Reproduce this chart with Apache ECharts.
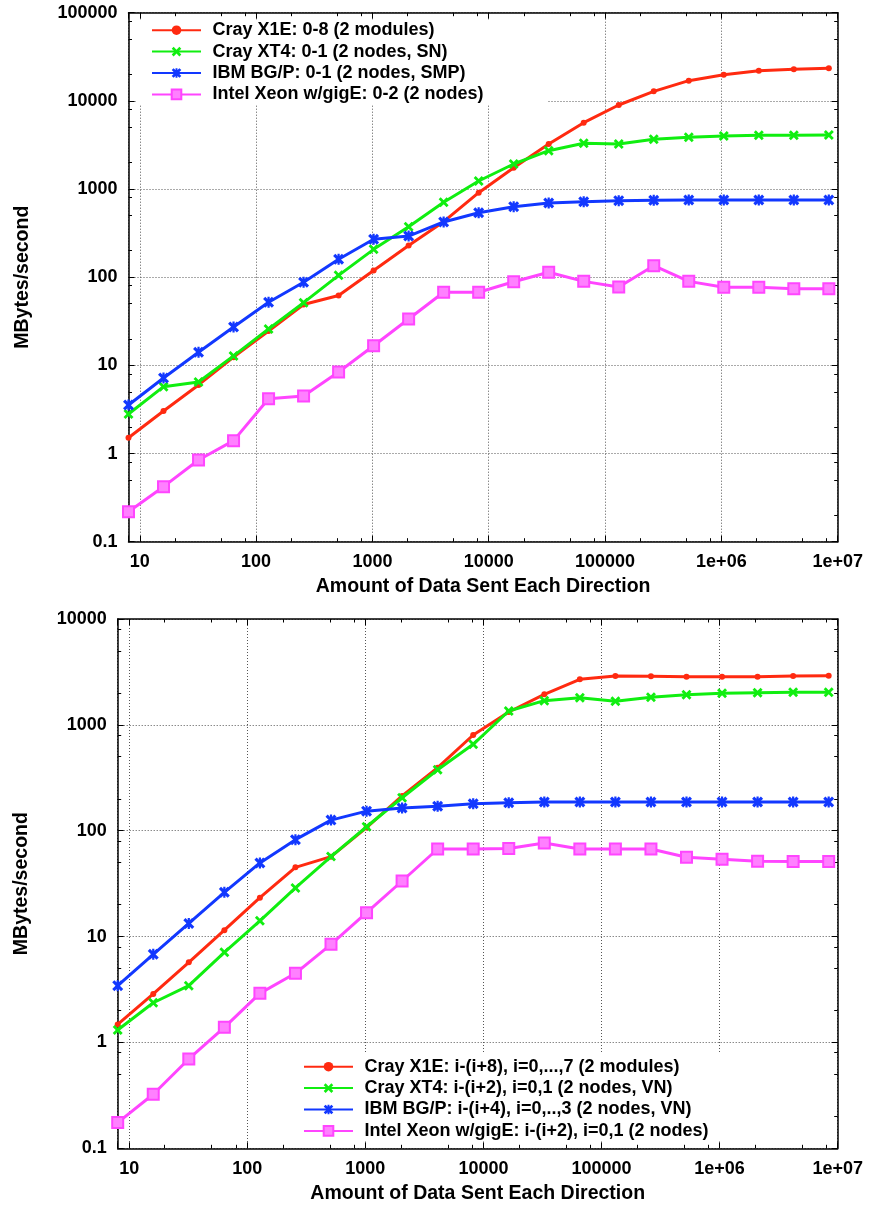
<!DOCTYPE html>
<html><head><meta charset="utf-8">
<script src="https://cdn.jsdelivr.net/npm/echarts@6/dist/echarts.min.js"></script>
<style>html,body{margin:0;padding:0;background:#fff}#c{width:870px;height:1207px}</style>
</head><body><div id="c"></div>
<script>
// ---------- data ----------
const xValues = [8,16,32,64,128,256,512,1024,2048,4096,8192,16384,32768,65536,131072,262144,524288,1048576,2097152,4194304,8388608];

const topNames = ['Cray X1E: 0-8 (2 modules)','Cray XT4: 0-1 (2 nodes, SN)','IBM BG/P: 0-1 (2 nodes, SMP)','Intel Xeon w/gigE: 0-2 (2 nodes)'];
const topX1E  = [1.51,3.04,6.0,12.4,24.5,49,62,119,229,426,909,1746,3243,5655,8980,12830,16940,19800,21980,22800,23400];
const topXT4  = [2.81,5.73,6.48,12.8,25.9,51.4,105,207,374,707,1233,1923,2723,3301,3243,3665,3862,3996,4067,4067,4100];
const topBGP  = [3.55,7.19,14.1,27.2,51.9,87.5,160,269,293,423,539,631,695,718,738,745,750,752,752,752,752];
const topXeon = [0.219,0.421,0.845,1.40,4.19,4.49,8.41,16.7,33.6,67.4,67.4,88.9,113.7,89.7,77.4,135,89.7,77,77,74,74];

const botNames = ['Cray X1E: i-(i+8), i=0,...,7 (2 modules)','Cray XT4: i-(i+2), i=0,1 (2 nodes, VN)','IBM BG/P: i-(i+4), i=0,..,3 (2 nodes, VN)','Intel Xeon w/gigE: i-(i+2), i=0,1 (2 nodes)'];
const botX1E  = [1.48,2.87,5.71,11.5,23.3,45.1,56.9,107,213,394,802,1322,1943,2693,2894,2880,2852,2840,2850,2894,2918];
const botXT4  = [1.31,2.37,3.44,7.10,14.1,28.8,57,109,205,377,655,1352,1692,1806,1668,1820,1928,1986,2010,2033,2033];
const botBGP  = [3.44,6.80,13.3,26.2,49.6,82.3,126,153,164,170,180,184,187,187,187,187,187,187,187,187,187];
const botXeon = [0.175,0.324,0.698,1.39,2.91,4.50,8.45,16.8,33.5,67.2,67.2,67.8,76.6,67.2,67.2,67.2,56.1,53.7,51.4,51.2,51.2];

const xTickValues = [10,100,1000,10000,100000,1000000,10000000];
const xTickLabels = ['10','100','1000','10000','100000','1e+06','1e+07'];
const yTopTickValues = [0.1,1,10,100,1000,10000,100000];
const yTopTickLabels = ['0.1','1','10','100','1000','10000','100000'];
const yBotTickValues = [0.1,1,10,100,1000,10000];
const yBotTickLabels = ['0.1','1','10','100','1000','10000'];
const minorMultipliers = [2,5,8];

const xTitle = 'Amount of Data Sent Each Direction';
const yTitle = 'MBytes/second';

// ---------- styling ----------
const FONT = "'Liberation Sans', Arial, Helvetica, sans-serif";
const colors = ['#ff2a10','#10ee10','#1238ff','#ff45ff'];
const symX = 'path://M0,2L2,0L5,3L8,0L10,2L7,5L10,8L8,10L5,7L2,10L0,8L3,5Z';
const symStar = 'path://M0,2L2,0L5,3L8,0L10,2L7,5L10,8L8,10L5,7L2,10L0,8L3,5Z M4,0L6,0L6,10L4,10Z';
const symbols = ['circle', symX, symStar, 'rect'];
const symSizes = [6, 10, 11, 11];

function lookup(vals, labels) {
  return function (v) {
    for (let i = 0; i < vals.length; i++) {
      if (Math.abs(v - vals[i]) <= 1e-6 * vals[i]) return labels[i];
    }
    return '';
  };
}
function minorLogs(kFrom, kTo) {
  const out = [];
  for (let k = kFrom; k <= kTo; k++) minorMultipliers.forEach(m => out.push(Math.log10(m) + k));
  return out;
}

const tickLabelStyle = { color: '#000', fontSize: 18, fontWeight: 'bold', fontFamily: FONT };
const titleStyle = { color: '#000', fontSize: 19.5, fontWeight: 'bold', fontFamily: FONT };
const gridLine = { show: true, lineStyle: { color: '#555', type: [1, 2], width: 1 } };
const axisLineStyle = { onZero: false, lineStyle: { color: '#000', width: 1.5 } };
const noLine = { show: false, onZero: false };
const majorTick = { show: true, inside: true, length: 6, lineStyle: { color: '#000', width: 1 } };
const minorTickDef = (vals) => ({ show: true, inside: true, length: 3.5, customValues: vals, lineStyle: { color: '#000', width: 1 } });

function xAxesFor(g, nameGap) {
  const xmin = 8, xmax = 1e7;
  const minorVals = minorLogs(0, 6).filter(v => v > Math.log10(xmin) + 1e-9 && v < 7);
  return [
    { gridIndex: g, type: 'log', logBase: 10, min: xmin, max: xmax, position: 'bottom',
      axisLine: axisLineStyle, axisTick: majorTick, splitLine: gridLine,
      axisLabel: Object.assign({ margin: 11.5, formatter: lookup(xTickValues, xTickLabels) }, tickLabelStyle),
      name: xTitle, nameLocation: 'middle', nameGap: nameGap, nameTextStyle: titleStyle },
    { gridIndex: g, type: 'log', logBase: 10, min: xmin, max: xmax, position: 'top',
      axisLine: axisLineStyle, axisTick: majorTick, splitLine: { show: false }, axisLabel: { show: false } },
    { gridIndex: g, type: 'value', min: Math.log10(xmin), max: 7, position: 'bottom',
      axisLine: noLine, axisTick: minorTickDef(minorVals), splitLine: { show: false }, axisLabel: { show: false } },
    { gridIndex: g, type: 'value', min: Math.log10(xmin), max: 7, position: 'top',
      axisLine: noLine, axisTick: minorTickDef(minorVals), splitLine: { show: false }, axisLabel: { show: false } }
  ];
}
function yAxesFor(g, ymin, ymax, vals, labels, nameGap) {
  const lo = Math.round(Math.log10(ymin)), hi = Math.round(Math.log10(ymax));
  const minorVals = minorLogs(lo, hi - 1);
  return [
    { gridIndex: g, type: 'log', logBase: 10, min: ymin, max: ymax, position: 'left',
      axisLine: axisLineStyle, axisTick: majorTick, splitLine: gridLine,
      axisLabel: Object.assign({ margin: 11, formatter: lookup(vals, labels) }, tickLabelStyle),
      name: yTitle, nameLocation: 'middle', nameGap: nameGap, nameTextStyle: titleStyle },
    { gridIndex: g, type: 'log', logBase: 10, min: ymin, max: ymax, position: 'right',
      axisLine: axisLineStyle, axisTick: majorTick, splitLine: { show: false }, axisLabel: { show: false } },
    { gridIndex: g, type: 'value', min: lo, max: hi, position: 'left',
      axisLine: noLine, axisTick: minorTickDef(minorVals), splitLine: { show: false }, axisLabel: { show: false } },
    { gridIndex: g, type: 'value', min: lo, max: hi, position: 'right',
      axisLine: noLine, axisTick: minorTickDef(minorVals), splitLine: { show: false }, axisLabel: { show: false } }
  ];
}

function mkSeries(names, arrays, axisIdx) {
  return arrays.map((arr, i) => ({
    name: names[i], type: 'line', xAxisIndex: axisIdx, yAxisIndex: axisIdx,
    data: xValues.map((x, j) => [x, arr[j]]),
    symbol: symbols[i], symbolSize: symSizes[i],
    lineStyle: { color: colors[i], width: 3 },
    itemStyle: i === 3 ? { color: '#ff80ff', borderColor: colors[i], borderWidth: 2 } : { color: colors[i] },
    emphasis: { disabled: true },
    z: 2 + i
  }));
}

const legendCommon = {
  orient: 'vertical', itemWidth: 49, itemHeight: 12, itemGap: 0,
  backgroundColor: '#fff', borderWidth: 0, selectedMode: false,
  textStyle: { color: '#000', fontSize: 18, fontWeight: 'bold', fontFamily: FONT, lineHeight: 21.4, padding: [0, 0, 0, 6.5] }
};

const option = {
  animation: false,
  backgroundColor: '#fff',
  grid: [
    { left: 128.5, right: 32.3, top: 12.7, height: 529 },
    { left: 117.7, right: 32.3, top: 619, height: 529.3 }
  ],
  xAxis: [].concat(xAxesFor(0, 35), xAxesFor(1, 35)),
  yAxis: [].concat(
    yAxesFor(0, 0.1, 100000, yTopTickValues, yTopTickLabels, 95.5),
    yAxesFor(1, 0.1, 10000, yBotTickValues, yBotTickLabels, 86)
  ),
  legend: [
    Object.assign({ data: topNames, left: 136, top: 19.5, padding: [0, 64, 0, 15] }, legendCommon),
    Object.assign({ data: botNames, left: 290, top: 1054, padding: [2, 16, 0, 13] }, legendCommon)
  ],
  series: [].concat(
    mkSeries(topNames, [topX1E, topXT4, topBGP, topXeon], 0),
    mkSeries(botNames, [botX1E, botXT4, botBGP, botXeon], 4)
  )
};

const chart = echarts.init(document.getElementById('c'), null, { renderer: 'canvas' });
chart.setOption(option);
</script>
</body></html>
